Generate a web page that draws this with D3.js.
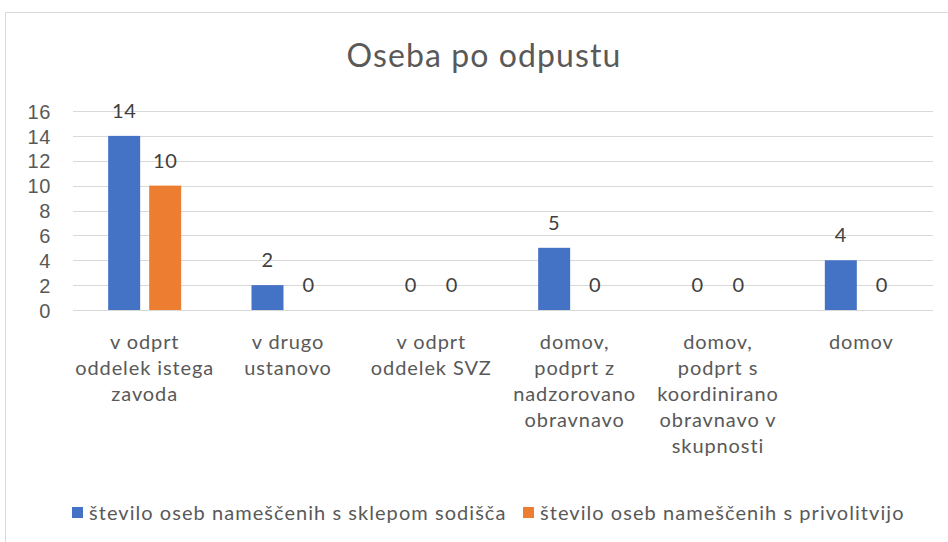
<!DOCTYPE html>
<html>
<head>
<meta charset="utf-8">
<script src="https://cdn.jsdelivr.net/npm/d3@7"></script>
<style>
  html, body { margin: 0; padding: 0; background: #fff; }
  svg { display: block; font-family: Lato, "Open Sans", sans-serif; }
</style>
</head>
<body>
<svg id="chart" width="948" height="542"></svg>
<script>
// Categories (each line of a wrapped label is a separate entry)
const categories = [
  ["v odprt", "oddelek istega", "zavoda"],
  ["v drugo", "ustanovo"],
  ["v odprt", "oddelek SVZ"],
  ["domov,", "podprt z", "nadzorovano", "obravnavo"],
  ["domov,", "podprt s", "koordinirano", "obravnavo v", "skupnosti"],
  ["domov"]
];
const seriesNames = [
  "število oseb nameščenih s sklepom sodišča",
  "število oseb nameščenih s privolitvijo"
];
const sodisceValues = [14, 2, 0, 5, 0, 4];
const privolitevValues = [10, 0, 0, 0, 0, 0];
const yTicks = [0, 2, 4, 6, 8, 10, 12, 14, 16];
const colors = ["#4472C4", "#ED7D31"];

const svg = d3.select("#chart");
const textColor = "#595959";

// chart frame
svg.append("rect")
  .attr("x", 5.5).attr("y", 12.5)
  .attr("width", 960).attr("height", 560)
  .attr("fill", "none").attr("stroke", "#d9d9d9");

// title
svg.append("text")
  .attr("x", 484).attr("y", 67)
  .attr("text-anchor", "middle")
  .attr("font-size", 32)
  .attr("letter-spacing", 1.1)
  .attr("fill", textColor)
  .text("Oseba po odpustu");

const plot = { left: 73, right: 933, top: 111, bottom: 310 };

const x0 = d3.scaleBand()
  .domain(d3.range(categories.length))
  .range([plot.left, plot.right])
  .paddingInner(0).paddingOuter(0);

const x1 = d3.scaleBand()
  .domain([0, 1])
  .range([-36.5, 36.5])
  .paddingInner(0.22);

const y = d3.scaleLinear().domain([0, 16]).range([plot.bottom, plot.top]);

// gridlines
svg.append("g")
  .selectAll("line")
  .data(yTicks)
  .join("line")
  .attr("x1", plot.left).attr("x2", plot.right)
  .attr("y1", d => Math.round(y(d)) + 0.5)
  .attr("y2", d => Math.round(y(d)) + 0.5)
  .attr("stroke", "#d9d9d9").attr("stroke-width", 1);

// y axis labels
const yAxis = d3.axisLeft(y).tickValues(yTicks).tickSize(0).tickPadding(0);
const yg = svg.append("g")
  .attr("transform", `translate(${plot.left - 22},0)`)
  .call(yAxis);
yg.select(".domain").remove();
yg.selectAll("text")
  .attr("font-family", null)
  .attr("font-size", 20)
  .attr("letter-spacing", 0.6)
  .attr("fill", textColor)
  .attr("dy", "0.36em");

// bars
const seriesData = [sodisceValues, privolitevValues];
const groups = svg.append("g")
  .selectAll("g")
  .data(categories.map((c, i) => i))
  .join("g")
  .attr("transform", i => `translate(${x0(i) + x0.bandwidth() / 2},0)`);

groups.selectAll("rect")
  .data(i => seriesData.map((s, k) => ({ k, v: s[i] })))
  .join("rect")
  .attr("x", d => x1(d.k))
  .attr("width", x1.bandwidth())
  .attr("y", d => y(d.v))
  .attr("height", d => y(0) - y(d.v))
  .attr("fill", d => colors[d.k]);

// value labels
groups.selectAll("text.val")
  .data(i => seriesData.map((s, k) => ({ k, v: s[i] })))
  .join("text")
  .attr("class", "val")
  .attr("x", d => x1(d.k) + x1.bandwidth() / 2)
  .attr("y", d => y(d.v) - 25)
  .attr("dy", "0.36em")
  .attr("text-anchor", "middle")
  .attr("font-size", 20)
  .attr("letter-spacing", 0.6)
  .attr("fill", "#404040")
  .text(d => d.v);

// category labels
const catG = svg.append("g");
categories.forEach((lines, i) => {
  const t = catG.append("text")
    .attr("text-anchor", "middle")
    .attr("font-size", 20)
    .attr("letter-spacing", 0.9)
    .attr("fill", textColor);
  lines.forEach((ln, j) => {
    t.append("tspan")
      .attr("x", x0(i) + x0.bandwidth() / 2)
      .attr("y", 342 + j * 26)
      .attr("dy", "0.36em")
      .text(ln);
  });
});

// legend
const legendItems = [
  { name: seriesNames[0], color: colors[0], x: 72 },
  { name: seriesNames[1], color: colors[1], x: 523 }
];
const lg = svg.append("g");
legendItems.forEach(it => {
  lg.append("rect")
    .attr("x", it.x).attr("y", 507)
    .attr("width", 11).attr("height", 11)
    .attr("fill", it.color);
  lg.append("text")
    .attr("x", it.x + 17).attr("y", 513)
    .attr("dy", "0.36em")
    .attr("font-size", 20)
    .attr("letter-spacing", 1.05)
    .attr("fill", textColor)
    .text(it.name);
});
</script>
</body>
</html>
